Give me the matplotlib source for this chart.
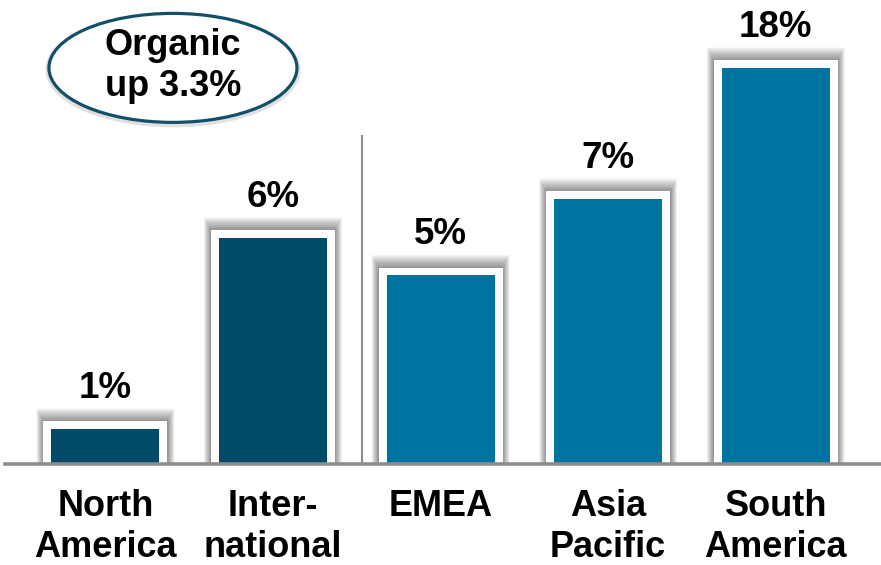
import matplotlib
matplotlib.use("Agg")
import matplotlib.pyplot as plt
from matplotlib.patches import Rectangle, Ellipse

# ==========================================
# DATA
# ==========================================
regions = ["North\nAmerica", "Inter-\nnational", "EMEA", "Asia\nPacific", "South\nAmerica"]
growth_labels = ["1%", "6%", "5%", "7%", "18%"]
# bar heights as drawn on the slide (South America bar is not to scale)
bar_heights = [0.93, 6.0, 5.0, 7.03, 10.5]
bar_colors = ["#004B6A", "#004B6A", "#0074A1", "#0074A1", "#0074A1"]
callout_text = "Organic\nup 3.3%"

# ==========================================
# LAYOUT
# ==========================================
W, H, DPI = 881, 565, 100
XLIM = (-0.629, 4.628)
YLIM = (0, 12.3)
AX_BOTTOM = 0.179

plt.rcParams['font.family'] = ['Liberation Sans', 'DejaVu Sans']
plt.rcParams['font.weight'] = 'bold'

fig = plt.figure(figsize=(W / DPI, H / DPI), dpi=DPI)
ax = fig.add_axes([0, AX_BOTTOM, 1, 1 - AX_BOTTOM])
ax.set_xlim(*XLIM)
ax.set_ylim(*YLIM)
ax.set_axis_off()

# pixels per data unit
px = W / (XLIM[1] - XLIM[0])
py = H * (1 - AX_BOTTOM) / (YLIM[1] - YLIM[0])

bar_w = 108 / px
frame_w = 124 / px
frame_pad = 7.5 / py

for i, (h, c) in enumerate(zip(bar_heights, bar_colors)):
    frame_top = h + frame_pad
    # soft shadow, mostly above the frame
    for k in range(1, 25):
        gx = k * 0.3 / px
        gy = k * 0.55 / py
        ax.add_patch(Rectangle((i - frame_w / 2 - gx, 0), frame_w + 2 * gx, frame_top + gy,
                               facecolor='black', alpha=0.02, lw=0, zorder=1))
    ax.add_patch(Rectangle((i - frame_w / 2, 0), frame_w, frame_top,
                           facecolor='white', lw=0, zorder=2))
    ax.bar(i, h, width=bar_w, color=c, zorder=3)
    ax.annotate(growth_labels[i], (i, h), xytext=(0, 22.3), textcoords='offset points',
                ha='center', va='baseline', fontsize=26.5, fontweight='bold', color='black')
    ax.annotate(regions[i], (i, 0), xytext=(0, -18), textcoords='offset points',
                ha='center', va='top', fontsize=26, fontweight='bold', color='black',
                linespacing=1.24, annotation_clip=False)

# baseline and divider
ax.axhline(0, xmin=0.006, color='#8c8c8c', lw=2.6, zorder=5, clip_on=False)
ax.plot([1.53, 1.53], [0, 8.7], color='#8c8c8c', lw=1.5, zorder=5)

# callout
cx_, cy_ = 0.403, 10.5
ax.add_patch(Ellipse((cx_, cy_ - 2 / py), 1.49, 2.9, facecolor='none',
                     edgecolor='black', alpha=0.12, lw=4, zorder=5))
ax.add_patch(Ellipse((cx_, cy_), 1.48, 2.89, facecolor='white', edgecolor='#134F6A',
                     lw=2.3, zorder=6))
ax.text(cx_, cy_ + 2 / py, callout_text, ha='center', va='center', fontsize=26,
        fontweight='bold', linespacing=1.22, zorder=7)

fig.savefig("out.png", dpi=DPI)
